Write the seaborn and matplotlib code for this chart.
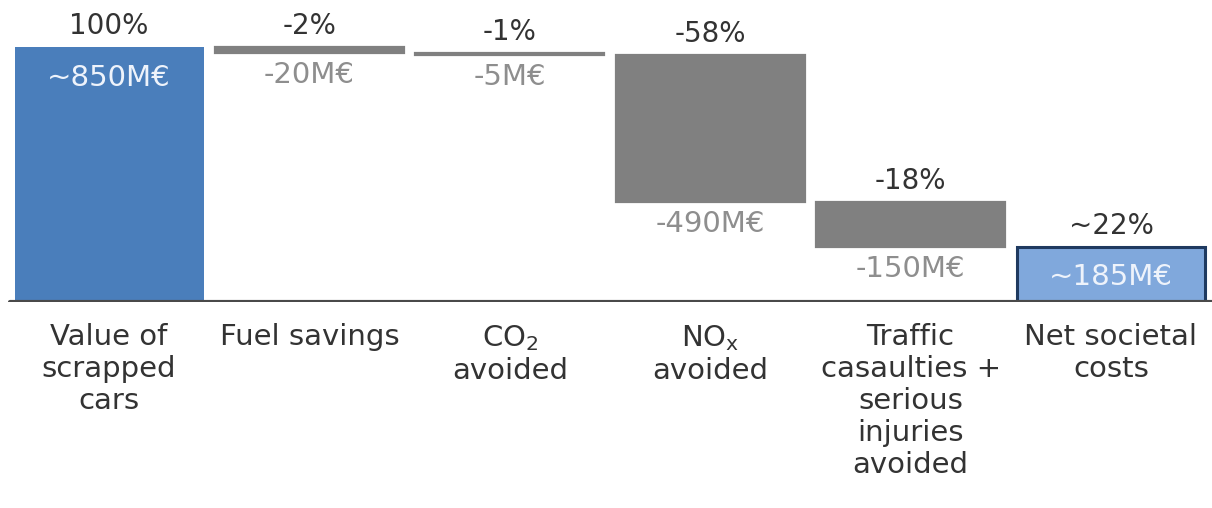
import numpy as np
import pandas as pd
import matplotlib
matplotlib.use("Agg")
import matplotlib.pyplot as plt
import seaborn as sns

# --- data -------------------------------------------------------------
categories = [
    "Value of\nscrapped\ncars",
    "Fuel savings",
    "CO$_2$\navoided",
    "NO$_\\mathregular{x}$\navoided",
    "Traffic\ncasaulties +\nserious\ninjuries\navoided",
    "Net societal\ncosts",
]
amounts = [850, -20, -5, -490, -150, 185]          # M€
is_total = [True, False, False, False, False, True]
pct_labels = ["100%", "-2%", "-1%", "-58%", "-18%", "~22%"]
value_labels = ["~850M€", "-20M€", "-5M€", "-490M€", "-150M€", "~185M€"]

# waterfall geometry: bottoms and bar heights from the running total
bottoms, heights, tops = [], [], []
running = 0.0
for amt, tot in zip(amounts, is_total):
    if tot:
        bottoms.append(0.0)
        heights.append(abs(amt))
        tops.append(amt)
        running = amt
    else:
        new = running + amt
        bottoms.append(min(new, running))
        heights.append(abs(amt))
        tops.append(max(new, running))
        running = new

df = pd.DataFrame({"category": categories, "height": heights})

# --- style ------------------------------------------------------------
sns.set_theme(style="white")
plt.rcParams["font.family"] = ["DejaVu Sans"]

BLUE = "#4a7ebb"
LIGHT_BLUE = "#80a8dc"
NAVY = "#1f3a60"
GREY = "#808080"
TEXT_DARK = "#333333"
TEXT_GREY = "#8e8e8e"

fill_colors = [BLUE, GREY, GREY, GREY, GREY, LIGHT_BLUE]

fig = plt.figure(figsize=(12.12, 5.08), dpi=100)
ax = fig.add_axes([0.0, 0.4055, 1.0, 0.5945])

sns.barplot(
    data=df, x="category", y="height", hue="category",
    palette=fill_colors, legend=False, width=0.943,
    saturation=1, ax=ax, order=categories, hue_order=categories,
)

# shift bars onto their waterfall position and style them
for i, patch in enumerate(ax.patches):
    patch.set_y(bottoms[i])
    patch.set_facecolor(fill_colors[i])
    if i == len(categories) - 1:
        patch.set_edgecolor(NAVY)
        patch.set_linewidth(2.2)
    elif is_total[i]:
        patch.set_edgecolor(BLUE)
        patch.set_linewidth(0)
    else:
        patch.set_edgecolor(GREY)
        patch.set_linewidth(1.6)

ax.set_xlim(-0.544, 5.504)
ax.set_ylim(0, 1007)

# baseline
ax.axhline(0, xmin=10 / 1212, xmax=1.0, color="#4a4a4a", lw=3.0, zorder=5)

# percentage labels above each bar
for i, (lab, top) in enumerate(zip(pct_labels, tops)):
    ax.annotate(lab, (i, top), xytext=(0, 5), textcoords="offset points",
                ha="center", va="bottom", fontsize=20, color=TEXT_DARK)

# amount labels: inside the totals, under the deltas
for i, lab in enumerate(value_labels):
    if is_total[i]:
        ax.annotate(lab, (i, tops[i]), xytext=(0, -12), textcoords="offset points",
                    ha="center", va="top", fontsize=21, color="#eef3fb")
    else:
        ax.annotate(lab, (i, bottoms[i]), xytext=(0, -6), textcoords="offset points",
                    ha="center", va="top", fontsize=21, color=TEXT_GREY)

# category labels
ax.set_xlabel("")
ax.set_ylabel("")
ax.set_yticks([])
ax.set_xticks(range(len(categories)))
ax.set_xticklabels(categories, fontsize=21, color=TEXT_DARK, linespacing=1.18)
ax.tick_params(axis="x", length=0, pad=15)
for s in ax.spines.values():
    s.set_visible(False)

fig.savefig("out.png", dpi=100, facecolor="white")
